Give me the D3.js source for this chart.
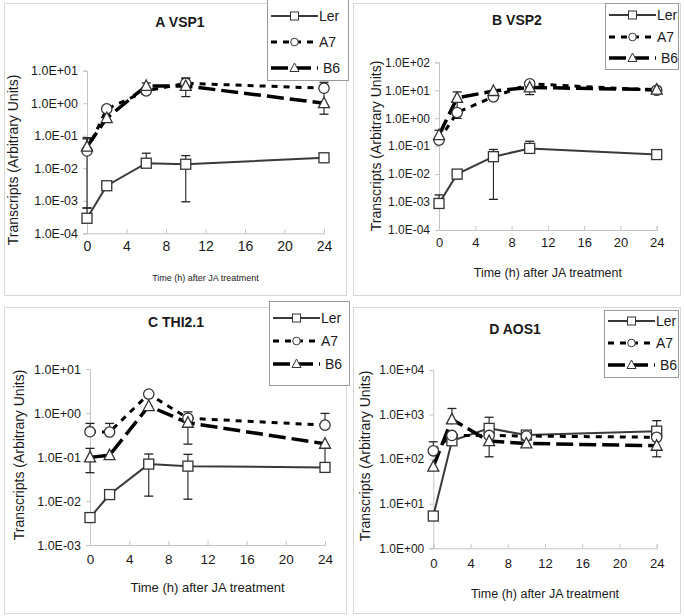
<!DOCTYPE html>
<html>
<head>
<meta charset="utf-8">
<script src="https://cdn.jsdelivr.net/npm/d3@7"></script>
<style>
  body { margin: 0; background: #fff; }
  text { font-family: "Liberation Sans", Arial, sans-serif; fill: #1a1a1a; }
</style>
</head>
<body>
<div id="chart"></div>
<script>
// time points (h after JA treatment)
var hours = [0, 2, 6, 10, 24];
var xTicks = [0, 4, 8, 12, 16, 20, 24];
var seriesNames = ['Ler', 'A7', 'B6'];

// A  VSP1
var vsp1Ler = [2.9e-4, 2.9e-3, 0.0143, 0.0133, 0.021];
var vsp1LerHi = [6.0e-4, null, 0.029, 0.0245, null];
var vsp1LerLo = [null, null, null, 9.3e-4, null];
var vsp1A7 = [0.034, 0.67, 2.4, 4.1, 2.9];
var vsp1A7Hi = [0.087, null, null, 6.0, 4.4];
var vsp1A7Lo = [6.0e-4, null, null, null, null];
var vsp1B6 = [0.046, 0.35, 3.4, 3.4, 1.0];
var vsp1B6Hi = [0.08, null, 4.2, 5.7, 2.6];
var vsp1B6Lo = [null, null, null, 1.6, 0.46];

// B  VSP2
var vsp2Ler = [8.9e-4, 0.010, 0.042, 0.083, 0.050];
var vsp2LerHi = [1.8e-3, null, 0.076, 0.15, null];
var vsp2LerLo = [null, 6.7e-3, 1.25e-3, null, null];
var vsp2A7 = [0.164, 1.6, 5.8, 17, 10];
var vsp2A7Hi = [null, 4.4, null, 22, null];
var vsp2A7Lo = [null, 0.99, null, null, null];
var vsp2B6 = [0.25, 5.3, 9.4, 12.6, 10.5];
var vsp2B6Hi = [0.37, 8.7, null, 22, null];
var vsp2B6Lo = [null, null, null, 7, null];

// C  THI2.1
var thiLer = [4.2e-3, 0.014, 0.069, 0.062, 0.058];
var thiLerHi = [null, null, 0.117, 0.115, null];
var thiLerLo = [null, null, 0.0129, 0.011, null];
var thiA7 = [0.376, 0.37, 2.7, 0.76, 0.53];
var thiA7Hi = [0.58, 0.58, null, 1.06, 0.98];
var thiA7Lo = [null, null, null, null, null];
var thiB6 = [0.098, 0.11, 1.44, 0.6, 0.2];
var thiB6Hi = [0.157, null, null, null, null];
var thiB6Lo = [0.044, null, null, 0.196, 0.06];

// D  AOS1
var aosLer = [5.3, 258, 490, 347, 425];
var aosLerHi = [null, null, 870, 400, 730];
var aosLerLo = [null, null, null, null, null];
var aosA7 = [154, 340, 340, 330, 310];
var aosA7Hi = [245, null, null, null, null];
var aosA7Lo = [null, null, null, null, null];
var aosB6 = [68, 780, 254, 225, 200];
var aosB6Hi = [null, 1370, null, null, null];
var aosB6Lo = [null, null, 113, null, 113];

var W = 684, H = 616;
var svg = d3.select('#chart').append('svg').attr('width', W).attr('height', H);

// line look for each series
var styles = {
  Ler: { stroke: '#3a3a3a', width: 2, dash: null, marker: 'square' },
  A7: { stroke: '#000', width: 3, dash: '6,6', marker: 'circle' },
  B6: { stroke: '#000', width: 3.5, dash: '17,6', marker: 'triangle' }
};

function fmtE(v) {
  var e = Math.round(Math.log10(v));
  var s = e < 0 ? '-' : '+';
  var a = Math.abs(e);
  return '1.0E' + s + (a < 10 ? '0' : '') + a;
}

function drawMarker(g, type, x, y) {
  if (type == 'square') {
    g.append('rect').attr('x', x - 5).attr('y', y - 5).attr('width', 10).attr('height', 10)
      .attr('fill', '#fff').attr('stroke', '#333').attr('stroke-width', 1.3);
  } else if (type == 'circle') {
    g.append('circle').attr('cx', x).attr('cy', y).attr('r', 5.2)
      .attr('fill', '#fff').attr('stroke', '#333').attr('stroke-width', 1.3);
  } else {
    g.append('path').attr('d', `M${x},${y - 6}L${x + 5.5},${y + 4.5}L${x - 5.5},${y + 4.5}Z`)
      .attr('fill', '#fff').attr('stroke', '#333').attr('stroke-width', 1.3);
  }
}

function drawPanel(p) {
  var g = svg.append('g');
  // frame
  g.append('rect').attr('x', p.frame[0] + 0.5).attr('y', p.frame[1] + 0.5)
    .attr('width', p.frame[2] - p.frame[0]).attr('height', p.frame[3] - p.frame[1])
    .attr('fill', '#fff').attr('stroke', '#d9d9d9');

  var x = d3.scaleLinear().domain([0, 24]).range([p.x0, p.x1]);
  var y = d3.scaleLog().domain(p.yDomain).range([p.yBot, p.yTop]);
  var yTicks = [];
  for (var e = Math.log10(p.yDomain[0]); e <= Math.log10(p.yDomain[1]); e++) yTicks.push(Math.pow(10, e));

  var ya = g.append('g').attr('transform', `translate(${p.x0},0)`)
    .call(d3.axisLeft(y).tickValues(yTicks).tickFormat(fmtE).tickSize(4).tickPadding(5));
  ya.selectAll('text').style('font-size', p.yTickSize + 'px').attr('fill', '#1a1a1a');
  var xa = g.append('g').attr('transform', `translate(0,${p.yBot})`)
    .call(d3.axisBottom(x).tickValues(xTicks).tickSize(-4).tickPadding(p.xTickPad));
  xa.selectAll('text').style('font-size', p.xTickSize + 'px').attr('fill', '#1a1a1a');
  g.selectAll('.domain').attr('stroke', '#c4c4c4');
  g.selectAll('.tick line').attr('stroke', '#c4c4c4');

  // titles
  g.append('text').attr('x', p.titleX).attr('y', p.titleY).attr('text-anchor', 'middle')
    .style('font-size', '14px').style('font-weight', 'bold').text(p.title);
  g.append('text').attr('transform', `translate(${p.yLabX},${p.yLabY}) rotate(-90)`)
    .attr('text-anchor', 'middle').style('font-size', '14px').text('Transcripts (Arbitrary Units)');
  g.append('text').attr('x', (p.x0 + p.x1) / 2).attr('y', p.xLabY).attr('text-anchor', 'middle')
    .style('font-size', p.xLabSize + 'px').text('Time (h) after JA treatment');

  var line = d3.line().x(d => x(d.h)).y(d => y(d.v));

  // error bars first, then lines, then markers
  p.series.forEach(function(s) {
    hours.forEach(function(h, i) {
      var v = s.vals[i];
      [s.hi[i], s.lo[i]].forEach(function(b) {
        if (b == null) return;
        g.append('line').attr('x1', x(h)).attr('x2', x(h)).attr('y1', y(v)).attr('y2', y(b))
          .attr('stroke', '#222').attr('stroke-width', 1.1);
        g.append('line').attr('x1', x(h) - 4.5).attr('x2', x(h) + 4.5).attr('y1', y(b)).attr('y2', y(b))
          .attr('stroke', '#222').attr('stroke-width', 1.3);
      });
    });
  });
  p.series.forEach(function(s) {
    var st = styles[s.name];
    var pts = hours.map((h, i) => ({ h: h, v: s.vals[i] }));
    g.append('path').datum(pts).attr('d', line).attr('fill', 'none')
      .attr('stroke', st.stroke).attr('stroke-width', st.width)
      .attr('stroke-dasharray', st.dash);
  });
  p.series.forEach(function(s) {
    var st = styles[s.name];
    hours.forEach((h, i) => drawMarker(g, st.marker, x(h), y(s.vals[i])));
  });

  // legend
  var L = p.legend;
  g.append('rect').attr('x', L.x + 0.5).attr('y', L.y + 0.5).attr('width', L.w).attr('height', L.h)
    .attr('fill', '#fff').attr('stroke', '#9a9a9a');
  seriesNames.forEach(function(n, i) {
    var st = styles[n];
    var ry = L.rows[i];
    g.append('line').attr('x1', L.x + 4).attr('x2', L.x + 51).attr('y1', ry).attr('y2', ry)
      .attr('stroke', st.stroke).attr('stroke-width', st.width).attr('stroke-dasharray', st.dash);
    var lg = g.append('g');
    var cx = L.x + 27.5;
    if (st.marker == 'square') lg.append('rect').attr('x', cx - 4).attr('y', ry - 4).attr('width', 8).attr('height', 8)
      .attr('fill', '#fff').attr('stroke', '#333');
    else if (st.marker == 'circle') lg.append('circle').attr('cx', cx).attr('cy', ry).attr('r', 3.8)
      .attr('fill', '#fff').attr('stroke', '#333');
    else lg.append('path').attr('d', `M${cx},${ry - 5}L${cx + 4.5},${ry + 3.5}L${cx - 4.5},${ry + 3.5}Z`)
      .attr('fill', '#fff').attr('stroke', '#333');
    g.append('text').attr('x', L.x + (n == 'B6' ? 56 : 52)).attr('y', ry + 5)
      .style('font-size', '14px').text(n);
  });
}

var panels = [
  { title: 'A  VSP1', frame: [4, 3, 346, 295], x0: 87, x1: 324, yTop: 70.7, yBot: 233.3, yDomain: [1e-4, 1e1],
    titleX: 180, titleY: 27, yLabX: 18, yLabY: 160, xLabY: 281, xLabSize: 9, xTickPad: 8, xTickSize: 14, yTickSize: 12.5,
    legend: { x: 267, y: -1, w: 81, h: 81, rows: [16, 42, 68] },
    series: [
      { name: 'Ler', vals: vsp1Ler, hi: vsp1LerHi, lo: vsp1LerLo },
      { name: 'A7', vals: vsp1A7, hi: vsp1A7Hi, lo: vsp1A7Lo },
      { name: 'B6', vals: vsp1B6, hi: vsp1B6Hi, lo: vsp1B6Lo }] },
  { title: 'B  VSP2', frame: [353, 3, 680, 295], x0: 439, x1: 656.7, yTop: 62.3, yBot: 230, yDomain: [1e-4, 1e2],
    titleX: 517, titleY: 25, yLabX: 381, yLabY: 146, xLabY: 277, xLabSize: 12.5, xTickPad: 8, xTickSize: 13, yTickSize: 12,
    legend: { x: 605, y: 3, w: 73, h: 66, rows: [15, 37, 58] },
    series: [
      { name: 'Ler', vals: vsp2Ler, hi: vsp2LerHi, lo: vsp2LerLo },
      { name: 'A7', vals: vsp2A7, hi: vsp2A7Hi, lo: vsp2A7Lo },
      { name: 'B6', vals: vsp2B6, hi: vsp2B6Hi, lo: vsp2B6Lo }] },
  { title: 'C  THI2.1', frame: [4, 307, 346, 613], x0: 90, x1: 325, yTop: 369, yBot: 545, yDomain: [1e-3, 1e1],
    titleX: 176, titleY: 327, yLabX: 24, yLabY: 455, xLabY: 592, xLabSize: 13, xTickPad: 9, xTickSize: 13.5, yTickSize: 12.5,
    legend: { x: 269, y: 301, w: 80, h: 84, rows: [318, 341, 364] },
    series: [
      { name: 'Ler', vals: thiLer, hi: thiLerHi, lo: thiLerLo },
      { name: 'A7', vals: thiA7, hi: thiA7Hi, lo: thiA7Lo },
      { name: 'B6', vals: thiB6, hi: thiB6Hi, lo: thiB6Lo }] },
  { title: 'D  AOS1', frame: [353, 307, 680, 613], x0: 433.3, x1: 656.7, yTop: 370, yBot: 548.3, yDomain: [1, 1e4],
    titleX: 515, titleY: 334, yLabX: 370, yLabY: 456, xLabY: 598, xLabSize: 12.5, xTickPad: 10, xTickSize: 13, yTickSize: 12,
    legend: { x: 604, y: 310, w: 74, h: 67, rows: [321, 343, 365] },
    series: [
      { name: 'Ler', vals: aosLer, hi: aosLerHi, lo: aosLerLo },
      { name: 'A7', vals: aosA7, hi: aosA7Hi, lo: aosA7Lo },
      { name: 'B6', vals: aosB6, hi: aosB6Hi, lo: aosB6Lo }] }
];

panels.forEach(drawPanel);
</script>
</body>
</html>
